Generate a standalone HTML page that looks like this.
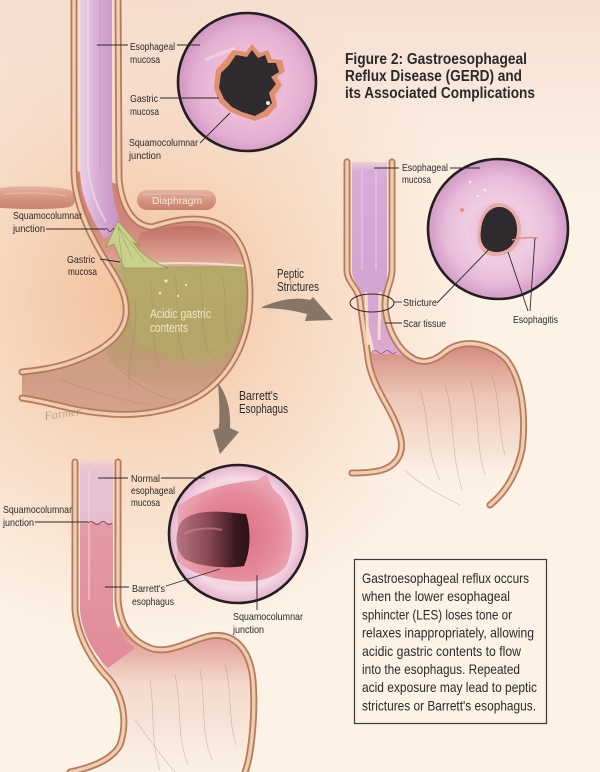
<!DOCTYPE html>
<html><head><meta charset="utf-8"><style>
html,body{margin:0;padding:0;width:600px;height:772px;overflow:hidden;background:#fcf3e5}
svg{display:block}
.l{font-family:"Liberation Sans Narrow","Liberation Sans","DejaVu Sans Condensed",sans-serif;font-size:10.5px;fill:#2a2a2a}
.a{font-family:"Liberation Sans Narrow","Liberation Sans","DejaVu Sans Condensed",sans-serif;font-size:12.5px;fill:#2a2a2a}
.t{font-family:"Liberation Sans Narrow","Liberation Sans","DejaVu Sans Condensed",sans-serif;font-size:15.5px;font-weight:bold;fill:#2a2a2a}
.b{font-family:"Liberation Sans Narrow","Liberation Sans","DejaVu Sans Condensed",sans-serif;font-size:13.8px;fill:#2a2a2a}
.ln{stroke:#2a2a2a;stroke-width:0.9;fill:none}
.w1{fill:none;stroke:#b97a5c;stroke-width:7;stroke-linecap:round;stroke-linejoin:round}
.w2{fill:none;stroke:#eecdb0;stroke-width:3.4;stroke-linecap:round;stroke-linejoin:round}
.w3{fill:none;stroke:#c99070;stroke-width:0.7;stroke-dasharray:2 3}
.sk{fill:none;stroke:#a5705c;stroke-width:0.6;opacity:.45}
</style></head><body>
<svg width="600" height="772" viewBox="0 0 600 772" xmlns="http://www.w3.org/2000/svg">
<defs>
<radialGradient id="bg" cx="140" cy="300" r="340" gradientUnits="userSpaceOnUse">
<stop offset="0" stop-color="#f2c09a"/><stop offset="0.5" stop-color="#f7dac3"/><stop offset="1" stop-color="#fcf2e6"/>
</radialGradient>
<linearGradient id="bgtop" x1="0" y1="0" x2="0" y2="1">
<stop offset="0" stop-color="#f3d6c8" stop-opacity=".7"/><stop offset="1" stop-color="#f3d6c8" stop-opacity="0"/>
</linearGradient>
<linearGradient id="stL" x1="0" y1="220" x2="0" y2="416" gradientUnits="userSpaceOnUse">
<stop offset="0" stop-color="#cf8478"/><stop offset="0.22" stop-color="#dca292"/><stop offset="0.24" stop-color="#b9ad6c"/>
<stop offset="0.55" stop-color="#b3a068"/><stop offset="0.8" stop-color="#c89a7e"/><stop offset="1" stop-color="#d9ab94"/>
</linearGradient>
<linearGradient id="fund" x1="0" y1="222" x2="0" y2="266" gradientUnits="userSpaceOnUse">
<stop offset="0" stop-color="#c06a62"/><stop offset="1" stop-color="#e3ad9c"/>
</linearGradient>
<linearGradient id="esoL" x1="0" y1="0" x2="1" y2="0">
<stop offset="0" stop-color="#ead0e6"/><stop offset="0.5" stop-color="#d4a6d0"/><stop offset="1" stop-color="#c48cc0"/>
</linearGradient>
<linearGradient id="esoR" x1="0" y1="155" x2="0" y2="360" gradientUnits="userSpaceOnUse">
<stop offset="0" stop-color="#dcb4dc" stop-opacity="0"/><stop offset="0.08" stop-color="#d8acd8"/><stop offset="0.6" stop-color="#d4a4d2"/><stop offset="1" stop-color="#dcaad0"/>
</linearGradient>
<linearGradient id="stR" x1="0" y1="345" x2="0" y2="515" gradientUnits="userSpaceOnUse">
<stop offset="0" stop-color="#d48a80"/><stop offset="0.3" stop-color="#ecc6b6"/><stop offset="0.75" stop-color="#fbefe3"/><stop offset="1" stop-color="#fcf3e6" stop-opacity="0"/>
</linearGradient>
<linearGradient id="esoB" x1="0" y1="455" x2="0" y2="660" gradientUnits="userSpaceOnUse">
<stop offset="0" stop-color="#e8c6d6" stop-opacity="0"/><stop offset="0.07" stop-color="#e6c2d4"/><stop offset="0.33" stop-color="#e6bed0"/>
<stop offset="0.335" stop-color="#e49aa4"/><stop offset="1" stop-color="#e28c98"/>
</linearGradient>
<linearGradient id="stB" x1="0" y1="635" x2="0" y2="772" gradientUnits="userSpaceOnUse">
<stop offset="0" stop-color="#e09a94"/><stop offset="0.35" stop-color="#f3d8cc"/><stop offset="1" stop-color="#fbf1e5"/>
</linearGradient>
<radialGradient id="c1" cx="250" cy="84" r="70" gradientUnits="userSpaceOnUse">
<stop offset="0" stop-color="#e4a0b8"/><stop offset="0.5" stop-color="#ecbcd8"/><stop offset="0.8" stop-color="#e4b0d2"/><stop offset="1" stop-color="#d498c2"/>
</radialGradient>
<radialGradient id="c2" cx="498" cy="230" r="70" gradientUnits="userSpaceOnUse">
<stop offset="0" stop-color="#e6b0d0"/><stop offset="0.45" stop-color="#f0cde2"/><stop offset="0.75" stop-color="#e8bcda"/><stop offset="1" stop-color="#d29ac6"/>
</radialGradient>
<radialGradient id="c3" cx="238" cy="534" r="70" gradientUnits="userSpaceOnUse">
<stop offset="0" stop-color="#f0c8d6"/><stop offset="0.8" stop-color="#f4d8e4"/><stop offset="1" stop-color="#e4b0cc"/>
</radialGradient>
<radialGradient id="red" cx="235" cy="535" r="60" gradientUnits="userSpaceOnUse">
<stop offset="0" stop-color="#dc6e80"/><stop offset="0.7" stop-color="#e58a9a"/><stop offset="1" stop-color="#eaa4b4"/>
</radialGradient>
<linearGradient id="lum" x1="175" y1="0" x2="250" y2="0" gradientUnits="userSpaceOnUse">
<stop offset="0" stop-color="#b87882"/><stop offset="0.45" stop-color="#8a4654"/><stop offset="0.8" stop-color="#3a1a20"/><stop offset="1" stop-color="#2a1216"/>
</linearGradient>
<linearGradient id="dia" x1="0" y1="0" x2="0" y2="1">
<stop offset="0" stop-color="#e4b4a2"/><stop offset="0.5" stop-color="#d69682"/><stop offset="1" stop-color="#c9806c"/>
</linearGradient>
</defs>

<!-- background -->
<rect width="600" height="772" fill="url(#bg)"/>
<rect width="600" height="200" fill="url(#bgtop)"/>

<!-- ========== TOP-LEFT STOMACH ========== -->
<!-- diaphragm -->
<path d="M0,188 C20,185 55,186 70,190 C77,193 77,204 70,207 C50,210 20,209 0,208 Z" fill="url(#dia)"/>
<path d="M4,194 C25,192 50,193 66,196" stroke="#f0c8b8" stroke-width="1" fill="none" opacity=".7"/>
<rect x="137" y="190" width="79" height="20" rx="10" fill="url(#dia)"/>
<path d="M143,195 C165,193 195,193 210,196" stroke="#f0c8b8" stroke-width="1" fill="none" opacity=".6"/>

<!-- stomach body -->
<path d="M74,170 C74,200 88,232 104,258 C118,280 128,295 126,315 C123,338 100,352 72,362 C55,368 40,370 22,372 L22,398 C50,402 70,410 100,413 C140,418 180,410 205,392 C235,370 250,335 250,295 C250,255 238,228 210,221 C188,216 168,222 152,227 C136,226 124,210 120,185 Z" fill="url(#stL)"/>
<path d="M140,233 C160,227 190,223 214,229 C234,236 243,250 245,266 L128,266 Z" fill="url(#fund)"/>
<path d="M122,266 L247,266 C248,300 242,330 230,350 C212,372 172,362 140,345 C128,322 126,292 122,266 Z" fill="#b4a868" opacity=".75"/>
<path d="M100,345 C115,370 150,395 200,392 C180,408 140,414 100,410 C70,406 45,398 25,396 L25,374 C55,370 85,360 100,345 Z" fill="#d3a08a" opacity=".7"/>
<!-- rugae sketch -->
<path class="sk" d="M150,280 C155,310 150,340 160,370 M175,275 C180,305 172,330 185,360 M200,272 C205,300 198,330 210,355 M222,275 C228,300 222,325 230,345 M135,300 C140,330 125,360 130,390 M110,360 C130,380 150,395 175,400 M60,380 C90,390 120,400 150,405"/>
<path d="M130,266 C160,262 200,262 246,266" stroke="#eeeed8" stroke-width="2" fill="none" opacity=".8"/>
<circle cx="166" cy="281" r="1.6" fill="#e8e4c8"/><circle cx="160" cy="293" r="1.4" fill="#e8e4c8"/><circle cx="178" cy="296" r="1.2" fill="#e8e4c8"/><circle cx="186" cy="285" r="1.2" fill="#e8e4c8"/>
<!-- esophagus lumen -->
<path d="M80,0 L80,170 C80,196 92,220 104,238 L124,232 C117,215 112,196 112,175 L112,0 Z" fill="url(#esoL)"/>
<path d="M88,0 L88,160 C88,185 96,205 106,222" stroke="#f4e2f0" stroke-width="2" fill="none" opacity=".6"/>
<path d="M100,0 L100,170" stroke="#c088bc" stroke-width="1" fill="none" opacity=".5"/>
<path d="M104,230 q2,-3 4,0 q2,3 4,0 q2,-3 4,0 q2,3 4,0" stroke="#6a3a50" stroke-width=".9" fill="none"/>
<!-- acid arrow -->
<path d="M118,221 L106,247 L114,244 C118,254 121,261 124,268 L168,268 C152,262 141,254 133,242 L140,246 Z" fill="#c9d08c" stroke="#8e9a52" stroke-width=".8"/>
<path d="M118,226 L122,262 M118,226 L132,258 M118,226 L145,262" stroke="#9aa860" stroke-width=".6" fill="none"/>
<!-- walls -->
<path class="w1" d="M74,0 L74,170 C74,200 88,232 104,258 C118,280 128,295 126,315 C123,338 100,352 72,362 C55,368 40,370 22,372"/>
<path class="w2" d="M74,0 L74,170 C74,200 88,232 104,258 C118,280 128,295 126,315 C123,338 100,352 72,362 C55,368 40,370 22,372"/>
<path class="w1" d="M118,0 L119,180 C122,208 134,226 152,227 C168,222 188,216 210,221 C238,228 250,255 250,295 C250,335 235,370 205,392 C180,410 140,418 100,413 C70,410 50,402 22,398"/>
<path class="w2" d="M118,0 L119,180 C122,208 134,226 152,227 C168,222 188,216 210,221 C238,228 250,255 250,295 C250,335 235,370 205,392 C180,410 140,418 100,413 C70,410 50,402 22,398"/>
<text x="45" y="420" font-family="Liberation Serif,serif" font-style="italic" font-size="12" fill="#9a7a6a" opacity=".6" transform="rotate(-8 45 420)">Farmer</text>

<!-- top circle -->
<circle cx="247" cy="82" r="69" fill="url(#c1)" stroke="#231f20" stroke-width="2.6"/>
<path d="M233,50 L246,52 L252,44 L260,53 L268,50 L272,59 L282,60 L285,71 L277,77 L282,85 L275,95 L277,106 L268,116 L255,121 L240,116 L229,111 L219,102 L214,88 L216,70 L225,60 Z" fill="#e0906e"/>
<path d="M236,55 L247,57 L252,50 L258,58 L265,55 L268,63 L276,63 L279,72 L271,77 L276,84 L269,93 L272,103 L264,111 L255,116 L242,112 L232,107 L224,99 L219,88 L221,73 L229,65 Z" fill="#2f2b2f"/>
<circle cx="268" cy="103" r="2" fill="#e8f0ec"/>
<path d="M205,60 C215,55 225,52 235,48" stroke="#f6dcea" stroke-width="3" fill="none" opacity=".6"/>

<!-- top-left labels -->
<text class="l" x="130" y="50" textLength="45" lengthAdjust="spacingAndGlyphs">Esophageal</text>
<text class="l" x="130" y="63" textLength="30" lengthAdjust="spacingAndGlyphs">mucosa</text>
<line class="ln" x1="97" y1="45" x2="128" y2="45"/><line class="ln" x1="177" y1="45" x2="200" y2="45"/>
<text class="l" x="130" y="102" textLength="28" lengthAdjust="spacingAndGlyphs">Gastric</text>
<text class="l" x="130" y="115" textLength="29" lengthAdjust="spacingAndGlyphs">mucosa</text>
<line class="ln" x1="160" y1="98" x2="219" y2="98"/>
<text class="l" x="129" y="146" textLength="69" lengthAdjust="spacingAndGlyphs">Squamocolumnar</text>
<text class="l" x="129" y="159" textLength="32" lengthAdjust="spacingAndGlyphs">junction</text>
<line class="ln" x1="200" y1="143" x2="230" y2="113"/>

<text class="l" x="13" y="219" textLength="69" lengthAdjust="spacingAndGlyphs">Squamocolumnar</text>
<text class="l" x="13" y="232" textLength="32" lengthAdjust="spacingAndGlyphs">junction</text>
<line class="ln" x1="46" y1="229" x2="104" y2="229"/>
<text class="l" x="67" y="263" textLength="28" lengthAdjust="spacingAndGlyphs">Gastric</text>
<text class="l" x="68" y="275" textLength="29" lengthAdjust="spacingAndGlyphs">mucosa</text>
<line class="ln" x1="100" y1="259" x2="120" y2="262"/>
<text class="l" x="152" y="204" textLength="50" lengthAdjust="spacingAndGlyphs" style="fill:#f7e8e0">Diaphragm</text>
<text class="a" x="150" y="318" textLength="61" lengthAdjust="spacingAndGlyphs" style="fill:#efe6c2">Acidic gastric</text>
<text class="a" x="150" y="332" textLength="38" lengthAdjust="spacingAndGlyphs" style="fill:#efe6c2">contents</text>

<!-- title -->
<text class="t" x="345" y="64" textLength="182" lengthAdjust="spacingAndGlyphs">Figure 2: Gastroesophageal</text>
<text class="t" x="345" y="81" textLength="177" lengthAdjust="spacingAndGlyphs">Reflux Disease (GERD) and</text>
<text class="t" x="345" y="98" textLength="190" lengthAdjust="spacingAndGlyphs">its Associated Complications</text>

<!-- arrows -->
<path d="M262,307 C280,299 298,297 310,300 L313,297 L333,320 L305,321 L307,314 C292,310 276,308 262,308 Z" fill="#877666"/>
<text class="a" x="277" y="278" textLength="27" lengthAdjust="spacingAndGlyphs">Peptic</text>
<text class="a" x="277" y="291" textLength="42" lengthAdjust="spacingAndGlyphs">Strictures</text>
<path d="M218,383 C227,395 231,410 230,428 L239,432 L220,454 L213,430 L219,428 C220,412 219,395 218,383 Z" fill="#877666"/>
<text class="a" x="239" y="400" textLength="39" lengthAdjust="spacingAndGlyphs">Barrett's</text>
<text class="a" x="239" y="413" textLength="49" lengthAdjust="spacingAndGlyphs">Esophagus</text>

<!-- ========== RIGHT (STRICTURE) ========== -->
<path d="M370,352 C375,390 395,410 403,440 C405,455 395,467 380,470 L358,473 C380,488 420,512 460,516 C492,510 515,480 522,450 C527,410 520,375 505,358 C485,340 460,340 445,352 C432,363 420,365 408,355 Z" fill="url(#stR)"/>
<path class="sk" d="M420,390 C430,420 425,450 440,480 M445,385 C455,415 450,450 462,490 M470,380 C480,410 475,445 485,475 M492,375 C500,400 498,430 505,455 M405,470 C420,485 440,495 460,505"/>
<path d="M352,162 L352,270 C352,282 362,288 364,300 C366,320 372,340 375,354 L404,354 C393,342 388,322 388,305 C388,290 387,282 387,270 L387,162 Z" fill="url(#esoR)"/>
<path d="M362,170 L362,270 M376,170 L376,270" stroke="#ecd2ec" stroke-width="1.5" fill="none" opacity=".6"/>
<path d="M372,352 q3,-3 6,0 q3,3 6,0 q3,-3 6,0 q3,3 6,0" stroke="#8a5060" stroke-width=".8" fill="none"/>
<path class="w1" d="M347,162 L347,270 C347,282 358,288 360,300 C362,320 366,340 368,358 C372,390 395,410 401,440 C404,457 393,468 378,471 C368,473 360,473 352,473"/>
<path class="w2" d="M347,162 L347,270 C347,282 358,288 360,300 C362,320 366,340 368,358 C372,390 395,410 401,440 C404,457 393,468 378,471 C368,473 360,473 352,473"/>
<path class="w1" d="M392,162 L392,270 C392,282 385,290 385,305 C386,325 395,345 408,355 C420,365 432,363 445,352 C460,340 485,340 505,358 C520,375 527,410 522,450 C515,480 502,495 490,505"/>
<path class="w2" d="M392,162 L392,270 C392,282 385,290 385,305 C386,325 395,345 408,355 C420,365 432,363 445,352 C460,340 485,340 505,358 C520,375 527,410 522,450 C515,480 502,495 490,505"/>
<path d="M366,292 L368,345 M380,292 L379,340" stroke="#f2dcc4" stroke-width="3" fill="none"/>
<ellipse cx="372" cy="303" rx="22" ry="9" fill="none" stroke="#2a2a2a" stroke-width="1"/>

<!-- right circle -->
<circle cx="498" cy="229" r="70" fill="url(#c2)" stroke="#231f20" stroke-width="2.6"/>
<path d="M496,203 C512,202 522,216 521,232 C520,248 508,257 494,256 C481,255 476,244 478,230 C480,215 486,204 496,203 Z" fill="#e8a090" opacity=".7"/>
<path d="M498,207 C510,206 518,218 517,232 C516,245 506,253 495,252 C484,251 479,242 481,230 C482,218 488,208 498,207 Z" fill="#2e2a2e"/>
<circle cx="462" cy="210" r="2" fill="#e09080"/>
<path d="M512,240 C520,238 530,237 538,238" stroke="#e09080" stroke-width="1.4" fill="none"/>
<circle cx="470" cy="182" r="1.3" fill="#fff" opacity=".8"/><circle cx="485" cy="190" r="1.3" fill="#fff" opacity=".8"/><circle cx="478" cy="196" r="1" fill="#fff" opacity=".8"/>

<!-- right labels -->
<text class="l" x="402" y="171" textLength="46" lengthAdjust="spacingAndGlyphs">Esophageal</text>
<text class="l" x="402" y="183" textLength="29" lengthAdjust="spacingAndGlyphs">mucosa</text>
<line class="ln" x1="374" y1="168" x2="399" y2="168"/><line class="ln" x1="450" y1="168" x2="480" y2="168"/>
<text class="l" x="403" y="306" textLength="34" lengthAdjust="spacingAndGlyphs">Stricture</text>
<line class="ln" x1="394" y1="302" x2="402" y2="302"/><line class="ln" x1="437" y1="303" x2="499" y2="239"/>
<text class="l" x="403" y="327" textLength="43" lengthAdjust="spacingAndGlyphs">Scar tissue</text>
<line class="ln" x1="385" y1="323" x2="402" y2="323"/>
<text class="l" x="513" y="323" textLength="45" lengthAdjust="spacingAndGlyphs">Esophagitis</text>
<line class="ln" x1="528" y1="311" x2="508" y2="252"/><line class="ln" x1="530" y1="311" x2="535" y2="238"/>

<!-- ========== BOTTOM-LEFT (BARRETT'S) ========== -->
<path d="M100,660 C120,690 127,720 120,745 C112,760 95,768 75,772 L245,772 C250,740 256,710 253,680 C250,650 235,632 210,636 C190,640 170,655 150,648 C138,645 128,640 120,625 Z" fill="url(#stB)"/>
<path class="sk" d="M150,680 C155,710 150,740 160,770 M175,675 C182,705 176,735 188,765 M200,670 C206,700 200,730 212,760 M225,665 C232,690 228,720 236,745 M135,720 C150,740 160,755 175,772"/>
<path d="M80,460 L80,610 C82,635 95,655 108,668 L135,648 C122,640 114,625 113,605 L113,460 Z" fill="url(#esoB)"/>
<path d="M89,470 L89,600" stroke="#f2d6e2" stroke-width="2" fill="none" opacity=".5"/>
<path d="M88,523 q3,-3 6,0 q3,3 6,0 q3,-3 6,0 q3,3 6,0" stroke="#7a4a5a" stroke-width=".9" fill="none"/>
<path class="w1" d="M75,462 L75,610 C78,640 95,665 110,680 C125,700 127,725 120,745 C112,760 90,768 70,772"/>
<path class="w2" d="M75,462 L75,610 C78,640 95,665 110,680 C125,700 127,725 120,745 C112,760 90,768 70,772"/>
<path class="w1" d="M118,462 L118,600 C120,625 130,640 150,648 C170,655 190,640 210,636 C235,632 250,650 253,680 C256,720 250,760 245,772"/>
<path class="w2" d="M118,462 L118,600 C120,625 130,640 150,648 C170,655 190,640 210,636 C235,632 250,650 253,680 C256,720 250,760 245,772"/>

<!-- Barrett circle -->
<circle cx="238" cy="534" r="69" fill="url(#c3)" stroke="#231f20" stroke-width="2.6"/>
<path d="M178,506 C200,488 235,482 257,480 L267,474 C270,485 273,490 281,496 C293,515 296,545 286,566 C276,579 255,583 235,581 C210,579 190,573 177,561 Z" fill="url(#red)"/>
<path d="M178,530 C180,515 200,510 225,512 L246,514 C251,530 251,550 244,566 C226,569 200,567 185,559 C176,551 175,540 178,530 Z" fill="url(#lum)"/>
<path d="M184,534 C195,528 210,527 222,530" stroke="#c88890" stroke-width="2" fill="none" opacity=".6"/>

<!-- bottom labels -->
<text class="l" x="131" y="482" textLength="29" lengthAdjust="spacingAndGlyphs">Normal</text>
<text class="l" x="131" y="494" textLength="44" lengthAdjust="spacingAndGlyphs">esophageal</text>
<text class="l" x="131" y="506" textLength="29" lengthAdjust="spacingAndGlyphs">mucosa</text>
<line class="ln" x1="98" y1="478" x2="128" y2="478"/><line class="ln" x1="161" y1="478" x2="205" y2="478"/>
<text class="l" x="3" y="513" textLength="69" lengthAdjust="spacingAndGlyphs">Squamocolumnar</text>
<text class="l" x="3" y="526" textLength="31" lengthAdjust="spacingAndGlyphs">junction</text>
<line class="ln" x1="35" y1="522" x2="88" y2="522"/>
<text class="l" x="132" y="592" textLength="33" lengthAdjust="spacingAndGlyphs">Barrett's</text>
<text class="l" x="132" y="605" textLength="42" lengthAdjust="spacingAndGlyphs">esophagus</text>
<line class="ln" x1="105" y1="587" x2="129" y2="587"/><line class="ln" x1="166" y1="586" x2="220" y2="569"/>
<text class="l" x="233" y="620" textLength="70" lengthAdjust="spacingAndGlyphs">Squamocolumnar</text>
<text class="l" x="233" y="633" textLength="31" lengthAdjust="spacingAndGlyphs">junction</text>
<line class="ln" x1="257" y1="575" x2="257" y2="610"/>

<!-- text box -->
<rect x="354.5" y="559.5" width="192" height="164" fill="none" stroke="#3a3a3a" stroke-width="1.2"/>
<text class="b" x="362" y="583" textLength="167" lengthAdjust="spacingAndGlyphs">Gastroesophageal reflux occurs</text>
<text class="b" x="362" y="601.2" textLength="148" lengthAdjust="spacingAndGlyphs">when the lower esophageal</text>
<text class="b" x="362" y="619.4" textLength="150" lengthAdjust="spacingAndGlyphs">sphincter (LES) loses tone or</text>
<text class="b" x="362" y="637.6" textLength="172" lengthAdjust="spacingAndGlyphs">relaxes inappropriately, allowing</text>
<text class="b" x="362" y="655.8" textLength="159" lengthAdjust="spacingAndGlyphs">acidic gastric contents to flow</text>
<text class="b" x="362" y="674" textLength="158" lengthAdjust="spacingAndGlyphs">into the esophagus. Repeated</text>
<text class="b" x="362" y="692.2" textLength="175" lengthAdjust="spacingAndGlyphs">acid exposure may lead to peptic</text>
<text class="b" x="362" y="710.4" textLength="174" lengthAdjust="spacingAndGlyphs">strictures or Barrett's esophagus.</text>
</svg>
</body></html>
